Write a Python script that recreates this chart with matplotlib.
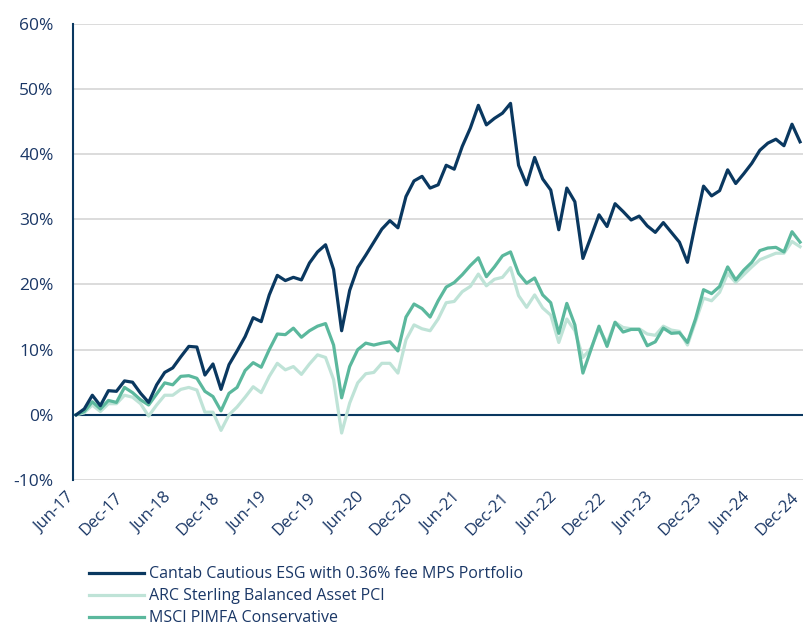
import numpy as np
import pandas as pd
import matplotlib
matplotlib.use("Agg")
import matplotlib.pyplot as plt
import matplotlib.transforms as mtransforms
from matplotlib.ticker import FuncFormatter

# Monthly cumulative returns (%), Jun-17 .. Dec-24
months = pd.date_range("2017-06-01", "2024-12-01", freq="MS")

cantab = [0.0, 0.9, 3.0, 1.4, 3.7, 3.6, 5.2, 5.0, 3.3, 1.9, 4.6, 6.5,
          7.2, 8.9, 10.5, 10.4, 6.1, 7.8, 3.9, 7.7, 9.8, 12.0, 14.9, 14.3,
          18.4, 21.4, 20.6, 21.1, 20.7, 23.3, 25.0, 26.1, 22.3, 12.9, 19.1, 22.6,
          24.5, 26.5, 28.5, 29.8, 28.7, 33.5, 35.9, 36.6, 34.8, 35.3, 38.3, 37.7,
          41.2, 44.0, 47.5, 44.5, 45.5, 46.3, 47.8, 38.3, 35.3, 39.5, 36.2, 34.5,
          28.4, 34.8, 32.7, 24.0, 27.3, 30.7, 28.9, 32.4, 31.2, 29.9, 30.5, 29.0,
          28.0, 29.5, 28.0, 26.5, 23.4, 29.4, 35.1, 33.6, 34.4, 37.6, 35.5, 37.0,
          38.6, 40.6, 41.7, 42.3, 41.3, 44.6, 41.9]

arc = [0.0, 0.3, 1.5, 0.5, 1.7, 1.7, 3.0, 2.7, 1.7, -0.2, 1.5, 3.0,
       3.0, 3.9, 4.2, 3.8, 0.4, 0.4, -2.4, 0.0, 1.2, 2.7, 4.3, 3.4,
       5.9, 7.9, 6.9, 7.4, 6.2, 7.8, 9.2, 8.8, 5.4, -2.8, 1.8, 4.9,
       6.3, 6.5, 7.9, 7.9, 6.4, 11.5, 13.8, 13.2, 12.9, 14.7, 17.2, 17.4,
       18.9, 19.7, 21.6, 19.8, 20.8, 21.1, 22.6, 18.3, 16.5, 18.4, 16.4, 15.3,
       11.1, 14.7, 12.9, 8.8, 10.2, 13.2, 11.0, 14.2, 13.4, 13.2, 13.2, 12.4,
       12.2, 13.6, 13.0, 12.8, 10.7, 14.3, 17.9, 17.5, 18.8, 21.7, 20.3, 21.5,
       22.7, 23.8, 24.3, 24.8, 24.8, 26.6, 25.8]

msci = [0.0, 0.5, 2.0, 0.9, 2.2, 1.9, 4.2, 3.4, 2.3, 1.5, 3.2, 4.9,
        4.6, 5.9, 6.0, 5.6, 3.6, 2.8, 0.6, 3.3, 4.2, 6.8, 8.0, 7.3,
        10.0, 12.4, 12.3, 13.3, 11.9, 12.9, 13.6, 14.0, 10.7, 2.6, 7.4, 10.0,
        11.0, 10.7, 11.0, 11.2, 9.8, 15.0, 17.0, 16.3, 15.0, 17.5, 19.6, 20.3,
        21.5, 22.9, 24.1, 21.2, 22.7, 24.4, 25.0, 21.7, 20.2, 21.0, 18.4, 17.2,
        12.5, 17.1, 13.8, 6.4, 10.0, 13.6, 10.5, 14.2, 12.7, 13.1, 13.1, 10.6,
        11.2, 13.3, 12.5, 12.6, 11.1, 14.7, 19.2, 18.6, 19.7, 22.7, 20.7, 22.2,
        23.4, 25.2, 25.6, 25.7, 25.0, 28.1, 26.5]

series_labels = ["Cantab Cautious ESG with 0.36% fee MPS Portfolio",
                 "ARC Sterling Balanced Asset PCI",
                 "MSCI PIMFA Conservative"]

navy = "#0a3860"
light = "#bfe3d7"
mid = "#5bb89d"
text_col = "#1a3766"

plt.rcParams["font.family"] = ["Open Sans", "DejaVu Sans"]

fig = plt.figure(figsize=(8.06, 6.29), dpi=100)
ax = fig.add_axes([0.0906, 0.237, 0.906, 0.725])

x = np.arange(len(months))
l2, = ax.plot(x, arc, color=light, linewidth=2.3, label=series_labels[1])
l3, = ax.plot(x, msci, color=mid, linewidth=2.3, label=series_labels[2])
l1, = ax.plot(x, cantab, color=navy, linewidth=2.3, label=series_labels[0])

ax.set_ylim(-10, 60)
ax.set_xlim(-0.4, 90.4)
ax.set_yticks(np.arange(-10, 61, 10))
ax.yaxis.set_major_formatter(FuncFormatter(lambda v, p: f"{v:.0f}%"))
ax.grid(axis="y", color="#d9d9d9", linewidth=1.3)
ax.set_axisbelow(True)
ax.axhline(0, color=navy, linewidth=1.5, zorder=1.5)

tick_pos = x[::6]
ax.set_xticks(tick_pos)
ax.set_xticklabels([m.strftime("%b-%y") for m in months[::6]], rotation=45,
                   ha="right", rotation_mode="anchor")

for s in ["top", "right", "bottom"]:
    ax.spines[s].set_visible(False)
ax.spines["left"].set_color(navy)
ax.spines["left"].set_linewidth(1.5)
ax.tick_params(axis="both", length=0, labelcolor=text_col, labelsize=12.5)
ax.tick_params(axis="x", labelsize=12)
ax.tick_params(axis="y", pad=14)
ax.tick_params(axis="x", pad=7)

# nudge the rotated date labels a little to the left so the last one fits
shift = mtransforms.ScaledTranslation(-7 / 72, 0, fig.dpi_scale_trans)
for lbl in ax.get_xticklabels():
    lbl.set_transform(lbl.get_transform() + shift)

fig.legend(handles=[l1, l2, l3], loc="upper left", bbox_to_anchor=(0.103, 0.11),
           frameon=False, fontsize=11.5, handlelength=3.4, labelspacing=0.38,
           handletextpad=0.3, borderaxespad=0, labelcolor=text_col)

plt.savefig("out.png", dpi=100)
